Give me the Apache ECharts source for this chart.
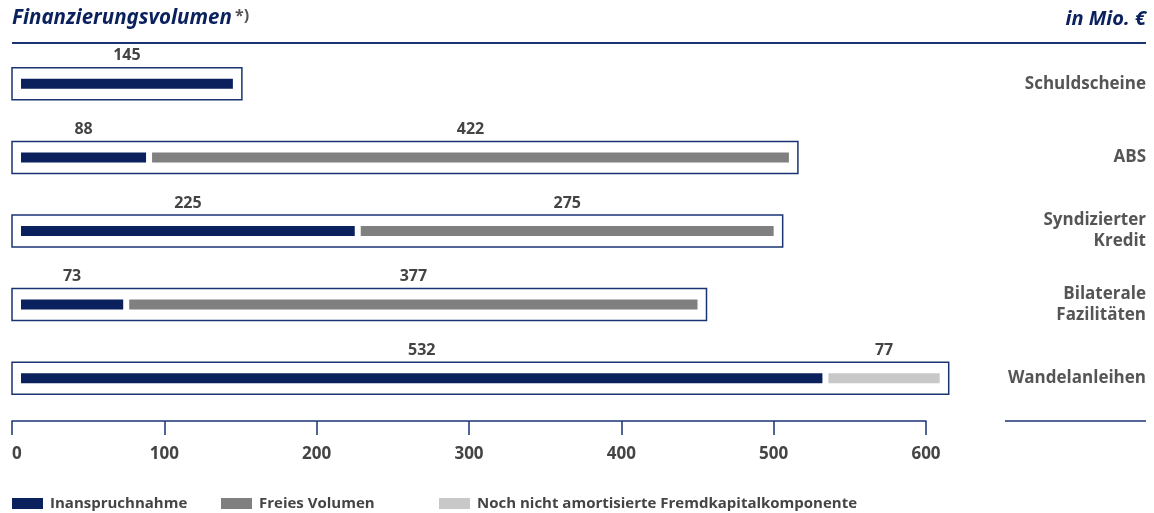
<!DOCTYPE html>
<html>
<head>
<meta charset="utf-8">
<script src="https://cdn.jsdelivr.net/npm/echarts@6/dist/echarts.min.js"></script>
<style>
html,body{margin:0;padding:0;background:#fff;}
#chart{width:1154px;height:513px;}
</style>
</head>
<body>
<div id="chart"></div>
<script>
const categories = ['Schuldscheine', 'ABS', 'Syndizierter Kredit', 'Bilaterale Fazilitäten', 'Wandelanleihen'];
const inanspruchnahme = [145, 88, 225, 73, 532];
const freiesVolumen = [0, 422, 275, 377, 0];
const fremdkapital = [0, 0, 0, 0, 77];
const xTicks = [0, 100, 200, 300, 400, 500, 600];

const seriesNames = ['Inanspruchnahme', 'Freies Volumen', 'Noch nicht amortisierte Fremdkapitalkomponente'];
const seriesValues = [inanspruchnahme, freiesVolumen, fremdkapital];
const colors = ['#0b215e', '#808080', '#c8c8c8'];
const NAVY = '#1a3473';
const FONT = '"Open Sans", "Noto Sans", sans-serif';

const chart = echarts.init(document.getElementById('chart'), null, {renderer: 'canvas'});

function segData(k) {
  return categories.map((c, i) => {
    let start = 0;
    for (let j = 0; j < k; j++) start += seriesValues[j][i];
    return [i, start, start + seriesValues[k][i]];
  });
}
const totals = categories.map((c, i) => [i, seriesValues.reduce((s, arr) => s + arr[i], 0)]);

function segRender(k) {
  return function (params, api) {
    const cat = api.value(0), start = api.value(1), end = api.value(2);
    if (!(end > start)) return null;
    const p0 = api.coord([start, cat]);
    const p1 = api.coord([end, cat]);
    const x0 = p0[0] + (start === 0 ? 9 : 6);
    const x1 = p1[0];
    const h = 10;
    return {
      type: 'group',
      children: [
        {type: 'rect', shape: {x: x0, y: p0[1] - h / 2, width: x1 - x0, height: h}, style: {fill: colors[k]}},
        {type: 'text', style: {text: String(end - start), x: (x0 + x1) / 2, y: p0[1] - 28,
          align: 'center', verticalAlign: 'middle', textAlign: 'center', textVerticalAlign: 'middle',
          fill: '#444', font: 'bold 16px ' + FONT}}
      ]
    };
  };
}

function boxRender(params, api) {
  const cat = api.value(0), total = api.value(1);
  const p0 = api.coord([0, cat]);
  const p1 = api.coord([total, cat]);
  const h = 32;
  return {
    type: 'rect',
    shape: {x: p0[0], y: p0[1] - h / 2, width: p1[0] - p0[0] + 9, height: h},
    style: {fill: 'none', stroke: NAVY, lineWidth: 1.5}
  };
}

const series = [{
  type: 'custom', name: 'box', renderItem: boxRender, data: totals, clip: false,
  encode: {x: 1, y: 0}, silent: true, z: 1
}];
seriesNames.forEach((n, k) => {
  series.push({
    type: 'custom', name: n, renderItem: segRender(k), data: segData(k), clip: false,
    encode: {x: [1, 2], y: 0}, itemStyle: {color: colors[k]}, z: 2
  });
});

const legendBase = {
  icon: 'rect', itemWidth: 31, itemHeight: 11, top: 496, itemGap: 0, padding: 0,
  textStyle: {fontFamily: FONT, fontSize: 15, fontWeight: 'bold', color: '#444', padding: [0, 0, 0, 2]},
  selectedMode: false
};

chart.setOption({
  animation: false,
  backgroundColor: '#fff',
  grid: {left: 12, right: 228, top: 47, height: 368, containLabel: false},
  xAxis: {
    type: 'value', min: 0, max: 600, interval: 100, offset: 6,
    axisLine: {show: true, lineStyle: {color: NAVY, width: 1.5}},
    axisTick: {show: true, length: 14, lineStyle: {color: NAVY, width: 1.5}},
    splitLine: {show: false},
    axisLabel: {margin: 25, fontFamily: FONT, fontSize: 17, fontWeight: 'bold', color: '#444',
      alignMinLabel: 'left',
      formatter: v => xTicks.indexOf(v) >= 0 ? String(v) : ''}
  },
  yAxis: {
    type: 'category', data: categories, inverse: true, position: 'right',
    axisLine: {show: false}, axisTick: {show: false}, splitLine: {show: false},
    axisLabel: {margin: 220, align: 'right', fontFamily: FONT, fontSize: 17, fontWeight: 'bold',
      color: '#555', lineHeight: 21, formatter: v => v.replace(' ', '\n')}
  },
  legend: [
    Object.assign({}, legendBase, {left: 12, data: [seriesNames[0]]}),
    Object.assign({}, legendBase, {left: 221, data: [seriesNames[1]]}),
    Object.assign({}, legendBase, {left: 439, data: [seriesNames[2]]})
  ],
  graphic: [
    {type: 'text', left: 12, top: 8, style: {text: 'Finanzierungsvolumen', fill: '#0b215e',
      font: 'italic bold 20.5px "Noto Sans", sans-serif'}},
    {type: 'text', left: 235, top: 8, style: {text: '*)', fill: '#555', font: 'bold 16px ' + FONT}},
    {type: 'text', right: 8, top: 9, style: {text: 'in Mio. €', fill: '#0b215e',
      font: 'italic bold 20px "Noto Sans", sans-serif', align: 'right'}},
    {type: 'line', shape: {x1: 12, y1: 43, x2: 1146, y2: 43}, style: {stroke: NAVY, lineWidth: 2}},
    {type: 'line', shape: {x1: 1005, y1: 421, x2: 1146, y2: 421}, style: {stroke: NAVY, lineWidth: 1.5}}
  ],
  series: series
});
</script>
</body>
</html>
